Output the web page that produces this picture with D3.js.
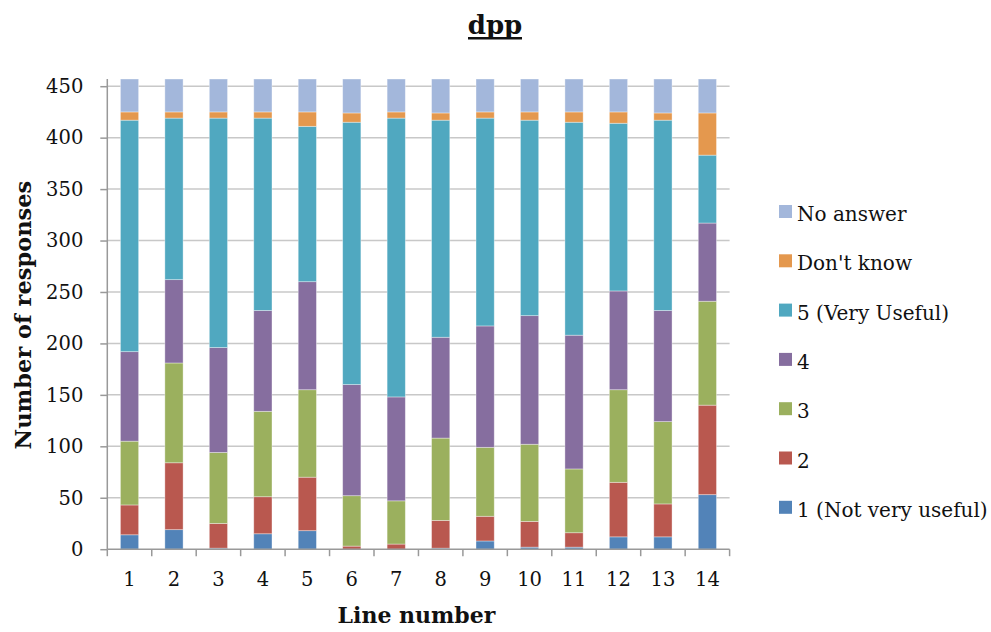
<!DOCTYPE html>
<html><head><meta charset="utf-8">
<script src="https://cdn.jsdelivr.net/npm/d3@7"></script>
<style>body{margin:0;background:#fff}svg{display:block}</style>
</head><body>
<svg id="c" width="991" height="632"></svg>
<script>
const categories = ["1","2","3","4","5","6","7","8","9","10","11","12","13","14"];
const seriesNames = ["1 (Not very useful)","2","3","4","5 (Very Useful)","Don't know","No answer"];
const s1  = [14,19,1,15,18,0,0,1,8,2,2,12,12,53];
const s2  = [29,65,24,36,52,3,5,27,24,25,14,53,32,87];
const s3  = [62,97,69,83,85,49,42,80,67,75,62,90,80,101];
const s4  = [87,81,102,98,105,108,101,98,118,125,130,96,108,76];
const s5  = [225,157,223,187,151,255,271,211,202,190,207,163,185,66];
const sDK = [8,6,6,6,14,9,6,7,6,8,10,11,7,41];
const sNA = [32,32,32,32,32,33,32,33,32,32,32,32,33,33];
const yTicks = [0,50,100,150,200,250,300,350,400,450];
const colors = ["#5283B8","#B9584F","#9BB05E","#866E9F","#50A8C0","#E4984E","#A3B7DB"];

const seriesVals = [s1,s2,s3,s4,s5,sDK,sNA];
const rows = categories.map((c,i)=>{const o={cat:c}; seriesNames.forEach((n,j)=>o[n]=seriesVals[j][i]); return o;});
const stack = d3.stack().keys(seriesNames)(rows);

const svg = d3.select("#c");
const L=107.3, R=729.6, T=79, B=549.2;
const x = d3.scaleBand().domain(categories).range([L,R]).paddingInner(0.59).paddingOuter(0.295);
const y = d3.scaleLinear().domain([0,457]).range([B,T]);
const font = "'DejaVu Serif', serif";

// gridlines
svg.append("g").selectAll("line").data(yTicks.filter(d=>d>0)).join("line")
  .attr("x1",L).attr("x2",R).attr("y1",d=>y(d)).attr("y2",d=>y(d))
  .attr("stroke","#c8c8c8").attr("stroke-width",1.5);

// bars
svg.append("g").selectAll("g").data(stack).join("g").attr("fill",(d,i)=>colors[i])
  .selectAll("rect").data(d=>d).join("rect")
  .attr("x",d=>x(d.data.cat)).attr("width",x.bandwidth())
  .attr("y",d=>y(d[1])).attr("height",d=>Math.max(0,y(d[0])-y(d[1])))
  .attr("stroke","#ffffff").attr("stroke-opacity",0.45).attr("stroke-width",0.8);

// y axis
const ya = svg.append("g").attr("transform",`translate(${L},0)`)
  .call(d3.axisLeft(y).tickValues(yTicks).tickSize(7).tickPadding(17));
ya.select(".domain").attr("d",`M-0,${T}V${B}`).attr("stroke","#999").attr("stroke-width",1.5);
ya.selectAll(".tick line").attr("stroke","#999").attr("stroke-width",1.5);
ya.selectAll("text").attr("font-family",font).attr("font-size",19.5).attr("fill","#111");

// x axis
const xa = svg.append("g").attr("transform",`translate(0,${B})`)
  .call(d3.axisBottom(x).tickSize(0).tickPadding(23));
xa.select(".domain").remove();
xa.selectAll("text").attr("font-family",font).attr("font-size",19.5).attr("fill","#111").attr("dy","0.71em");
svg.append("line").attr("x1",L).attr("x2",R).attr("y1",B).attr("y2",B).attr("stroke","#999").attr("stroke-width",1.5);
const step = x.step();
const bounds = d3.range(categories.length+1).map(i=>L+i*step);
svg.append("g").selectAll("line").data(bounds).join("line")
  .attr("x1",d=>d).attr("x2",d=>d).attr("y1",B).attr("y2",B+7)
  .attr("stroke","#999").attr("stroke-width",1.5);

// titles
svg.append("text").attr("x",495).attr("y",34).attr("text-anchor","middle")
  .attr("font-family",font).attr("font-weight","bold").attr("font-size",26)
  .attr("fill","#111").text("dpp");
svg.append("rect").attr("x",468).attr("y",37).attr("width",54).attr("height",2.5).attr("fill","#111");
svg.append("text").attr("x",(L+R)/2-2).attr("y",623).attr("text-anchor","middle")
  .attr("font-family",font).attr("font-weight","bold").attr("font-size",22).attr("fill","#111").text("Line number");
svg.append("text").attr("transform",`translate(31,${(T+B)/2+1}) rotate(-90)`).attr("text-anchor","middle")
  .attr("font-family",font).attr("font-weight","bold").attr("font-size",22.5).attr("fill","#111").text("Number of responses");

// legend
const legendOrder = seriesNames.map((n,i)=>({n,c:colors[i]})).reverse();
const lg = svg.append("g").selectAll("g").data(legendOrder).join("g")
  .attr("transform",(d,i)=>`translate(779,${205+i*49.3})`);
lg.append("rect").attr("width",13).attr("height",13).attr("fill",d=>d.c);
lg.append("text").attr("x",18).attr("y",16).attr("font-family",font).attr("font-size",20).attr("fill","#111").text(d=>d.n);
</script>
</body></html>
